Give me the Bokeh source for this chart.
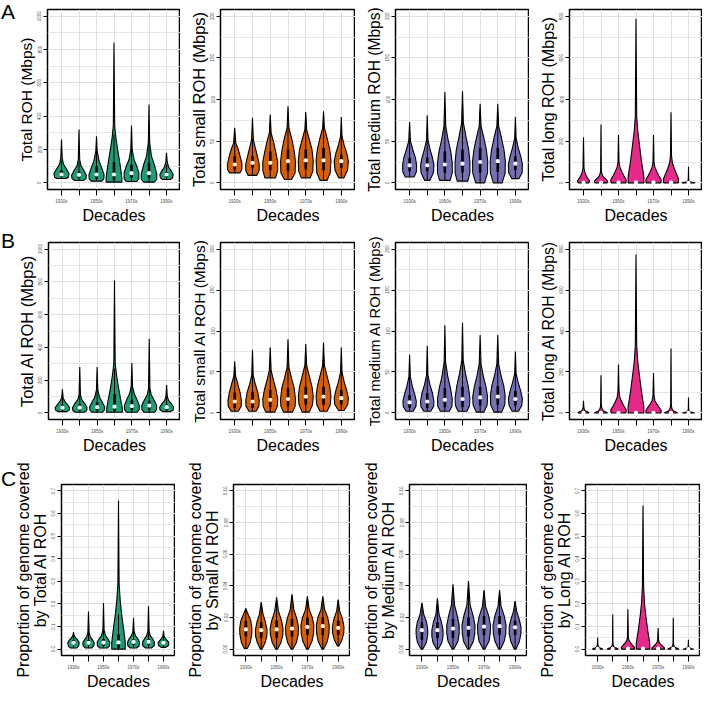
from bokeh.plotting import figure
from bokeh.layouts import column, row
from bokeh.models import FixedTicker, PrintfTickFormatter, Div
from bokeh.embed import file_html
from bokeh.resources import INLINE

decades = ["1930s", "1940s", "1950s", "1960s", "1970s", "1980s", "1990s"]
panel_letters = ["A", "B", "C"]

GREEN, ORANGE, PURPLE, PINK = "#1B9E77", "#D95F02", "#7570B3", "#E7298A"

# y tick values
T1000 = [0, 200, 400, 600, 800, 1000]; M1000 = [100, 300, 500, 700, 900]
T200 = [0, 50, 100, 150, 200];         M200 = [25, 75, 125, 175]
T800 = [0, 200, 400, 600, 800];        M800 = [100, 300, 500, 700]
T07 = [0.0, 0.1, 0.2, 0.3, 0.4, 0.5, 0.6, 0.7]
M07 = [0.05, 0.15, 0.25, 0.35, 0.45, 0.55, 0.65]
T010 = [0.0, 0.02, 0.04, 0.06, 0.08, 0.10]
M010 = [0.01, 0.03, 0.05, 0.07, 0.09]

# ---- violin outlines: knot heights (y) and half-widths (w); box = [q1, median, q3, upper whisker]
A1_y = [[26, 35, 55, 80, 110, 150, 260], [14, 25, 45, 70, 100, 140, 320], [10, 25, 50, 90, 130, 190, 280],
        [4, 30, 100, 180, 260, 340, 840], [8, 25, 60, 100, 140, 200, 344], [4, 20, 55, 110, 160, 240, 470],
        [20, 30, 50, 70, 95, 125, 180]]
A1_w = [[0.28, 0.40, 0.43, 0.30, 0.12, 0.04, 0], [0.25, 0.40, 0.42, 0.30, 0.12, 0.04, 0],
        [0.30, 0.42, 0.43, 0.30, 0.15, 0.04, 0], [0.45, 0.45, 0.36, 0.24, 0.12, 0.04, 0],
        [0.30, 0.42, 0.42, 0.30, 0.14, 0.04, 0], [0.30, 0.44, 0.44, 0.30, 0.14, 0.04, 0],
        [0.22, 0.35, 0.38, 0.28, 0.12, 0.04, 0]]
A1_box = [[35, 50, 75, 135], [30, 48, 70, 130], [25, 50, 100, 210], [15, 50, 125, 290],
          [30, 58, 110, 230], [30, 58, 120, 255], [35, 50, 65, 110]]

A2_y = [[12, 16, 22, 30, 40, 48, 66], [9, 15, 22, 30, 40, 52, 78], [6, 15, 25, 35, 48, 60, 82],
        [4, 12, 25, 38, 52, 66, 92], [6, 14, 27, 40, 52, 64, 85], [3, 12, 27, 40, 52, 66, 86],
        [6, 15, 26, 36, 46, 56, 79]]
A2_w = [[0.30, 0.40, 0.41, 0.33, 0.20, 0.06, 0], [0.25, 0.38, 0.38, 0.30, 0.18, 0.05, 0],
        [0.30, 0.42, 0.42, 0.33, 0.20, 0.05, 0], [0.20, 0.40, 0.42, 0.35, 0.22, 0.05, 0],
        [0.25, 0.40, 0.42, 0.35, 0.20, 0.05, 0], [0.20, 0.38, 0.42, 0.35, 0.22, 0.05, 0],
        [0.15, 0.35, 0.40, 0.30, 0.15, 0.04, 0]]
A2_box = [[16, 22, 32, 55], [18, 24, 32, 53], [15, 24, 38, 72], [14, 26, 40, 79],
          [16, 27, 40, 76], [15, 27, 42, 82], [18, 26, 34, 58]]

A3_y = [[7, 13, 21, 30, 40, 50, 73], [3, 12, 21, 30, 40, 52, 81], [3, 12, 24, 38, 52, 68, 109],
        [2, 12, 25, 40, 55, 72, 110], [0, 12, 26, 40, 55, 68, 95], [0, 12, 26, 40, 55, 68, 95],
        [5, 12, 22, 32, 42, 54, 79]]
A3_w = [[0.25, 0.38, 0.40, 0.33, 0.18, 0.05, 0], [0.15, 0.35, 0.38, 0.30, 0.16, 0.04, 0],
        [0.30, 0.42, 0.42, 0.33, 0.18, 0.05, 0], [0.30, 0.42, 0.42, 0.35, 0.20, 0.05, 0],
        [0.25, 0.42, 0.43, 0.35, 0.20, 0.05, 0], [0.25, 0.42, 0.43, 0.35, 0.20, 0.05, 0],
        [0.20, 0.38, 0.40, 0.30, 0.16, 0.04, 0]]
A3_box = [[14, 21, 30, 54], [14, 21, 30, 54], [12, 22, 38, 77], [12, 23, 40, 82],
          [12, 25, 42, 87], [13, 26, 42, 85], [15, 23, 32, 57]]

A4_y = [[0, 8, 20, 35, 50, 70, 219], [0, 8, 20, 30, 45, 60, 280], [0, 15, 35, 55, 75, 100, 229],
        [0, 30, 100, 180, 250, 320, 787], [0, 15, 35, 55, 75, 100, 229], [0, 20, 45, 70, 95, 130, 339],
        [0, 2, 4, 6, 10, 20, 77]]
A4_w = [[0.30, 0.35, 0.25, 0.15, 0.08, 0.03, 0], [0.35, 0.38, 0.25, 0.12, 0.05, 0.02, 0],
        [0.42, 0.44, 0.30, 0.18, 0.08, 0.03, 0], [0.45, 0.45, 0.32, 0.20, 0.10, 0.04, 0],
        [0.42, 0.44, 0.30, 0.18, 0.08, 0.03, 0], [0.42, 0.43, 0.30, 0.18, 0.08, 0.03, 0],
        [0.38, 0.30, 0.15, 0.06, 0.03, 0.01, 0]]
A4_box = [[0, 1, 3, 6], [0, 1, 3, 6], [0, 2, 5, 10], [0, 2, 6, 12],
          [0, 2, 5, 10], [0, 2, 5, 10], [0, 0, 1, 2]]

B1_y = [[8, 18, 32, 50, 70, 95, 145], [4, 15, 32, 55, 80, 110, 280], [4, 18, 38, 65, 95, 140, 280],
        [4, 30, 90, 160, 230, 300, 808], [4, 20, 45, 80, 115, 160, 305], [4, 20, 45, 75, 110, 150, 452],
        [8, 18, 35, 55, 75, 100, 171]]
B1_w = [[0.25, 0.40, 0.42, 0.30, 0.14, 0.04, 0], [0.25, 0.40, 0.42, 0.30, 0.12, 0.04, 0],
        [0.30, 0.42, 0.43, 0.30, 0.14, 0.04, 0], [0.45, 0.45, 0.34, 0.22, 0.12, 0.04, 0],
        [0.30, 0.42, 0.43, 0.30, 0.14, 0.04, 0], [0.30, 0.42, 0.43, 0.30, 0.12, 0.04, 0],
        [0.22, 0.38, 0.40, 0.28, 0.12, 0.04, 0]]
B1_box = [[18, 32, 50, 98], [15, 32, 55, 115], [15, 35, 65, 140], [10, 38, 115, 270],
          [18, 42, 80, 173], [20, 45, 75, 157], [18, 35, 52, 103]]

B2_y = [[2, 8, 15, 25, 35, 45, 63], [2, 8, 15, 25, 35, 46, 77], [1, 8, 17, 28, 40, 52, 80],
        [1, 8, 17, 30, 42, 56, 90], [1, 10, 20, 32, 45, 58, 84], [2, 10, 20, 32, 45, 58, 86],
        [3, 10, 18, 28, 38, 50, 80]]
B2_w = [[0.20, 0.36, 0.38, 0.30, 0.18, 0.05, 0], [0.20, 0.36, 0.38, 0.30, 0.16, 0.04, 0],
        [0.25, 0.40, 0.42, 0.33, 0.18, 0.05, 0], [0.25, 0.40, 0.42, 0.35, 0.20, 0.05, 0],
        [0.20, 0.38, 0.42, 0.35, 0.20, 0.05, 0], [0.20, 0.38, 0.42, 0.35, 0.20, 0.05, 0],
        [0.15, 0.36, 0.40, 0.30, 0.16, 0.04, 0]]
B2_box = [[6, 14, 25, 53], [6, 14, 26, 56], [7, 16, 28, 59], [8, 17, 30, 63],
          [10, 20, 32, 65], [10, 20, 32, 65], [10, 18, 28, 55]]

B3_y = [[2, 8, 14, 22, 32, 44, 71], [2, 8, 14, 24, 34, 46, 82], [2, 8, 17, 30, 45, 62, 107],
        [2, 9, 18, 32, 48, 64, 110], [1, 10, 20, 32, 45, 60, 95], [1, 10, 21, 33, 46, 60, 95],
        [2, 9, 17, 27, 37, 48, 75]]
B3_w = [[0.20, 0.36, 0.38, 0.30, 0.16, 0.04, 0], [0.20, 0.36, 0.38, 0.30, 0.16, 0.04, 0],
        [0.25, 0.40, 0.42, 0.32, 0.16, 0.04, 0], [0.25, 0.40, 0.42, 0.33, 0.17, 0.04, 0],
        [0.22, 0.40, 0.42, 0.33, 0.18, 0.05, 0], [0.22, 0.40, 0.42, 0.34, 0.18, 0.05, 0],
        [0.18, 0.36, 0.40, 0.30, 0.16, 0.04, 0]]
B3_box = [[6, 13, 22, 46], [6, 14, 24, 51], [7, 16, 30, 64], [7, 17, 32, 69],
          [9, 19, 32, 66], [10, 20, 33, 67], [9, 17, 27, 54]]

B4_y = [[0, 3, 8, 14, 20, 28, 59], [0, 4, 10, 18, 26, 40, 184], [0, 15, 35, 55, 75, 105, 237],
        [0, 30, 100, 180, 250, 330, 774], [0, 12, 30, 45, 60, 85, 195], [0, 4, 10, 18, 26, 40, 315],
        [0, 2, 5, 8, 12, 20, 75]]
B4_w = [[0.32, 0.28, 0.15, 0.07, 0.04, 0.02, 0], [0.38, 0.30, 0.15, 0.07, 0.04, 0.02, 0],
        [0.42, 0.44, 0.30, 0.18, 0.08, 0.03, 0], [0.45, 0.45, 0.32, 0.20, 0.10, 0.04, 0],
        [0.42, 0.44, 0.30, 0.18, 0.08, 0.03, 0], [0.38, 0.30, 0.15, 0.07, 0.04, 0.02, 0],
        [0.35, 0.25, 0.12, 0.05, 0.03, 0.01, 0]]
B4_box = [[0, 0, 1, 2], [0, 0, 1, 2], [0, 1, 4, 8], [0, 1, 5, 10],
          [0, 1, 4, 8], [0, 0, 1, 2], [0, 0, 1, 2]]

C1_y = [[0.005, 0.015, 0.028, 0.04, 0.05, 0.06, 0.076], [0.005, 0.015, 0.028, 0.04, 0.055, 0.075, 0.167],
        [0.005, 0.015, 0.03, 0.045, 0.06, 0.085, 0.204], [0.0, 0.03, 0.09, 0.15, 0.21, 0.29, 0.657],
        [0.005, 0.015, 0.03, 0.045, 0.06, 0.08, 0.139], [0.005, 0.015, 0.03, 0.045, 0.06, 0.08, 0.19],
        [0.008, 0.016, 0.028, 0.038, 0.048, 0.058, 0.081]]
C1_w = [[0.20, 0.35, 0.38, 0.28, 0.14, 0.04, 0], [0.20, 0.36, 0.38, 0.28, 0.12, 0.04, 0],
        [0.25, 0.40, 0.42, 0.30, 0.13, 0.04, 0], [0.45, 0.45, 0.34, 0.22, 0.12, 0.04, 0],
        [0.20, 0.38, 0.40, 0.30, 0.13, 0.04, 0], [0.20, 0.38, 0.40, 0.28, 0.12, 0.04, 0],
        [0.15, 0.33, 0.36, 0.26, 0.12, 0.04, 0]]
C1_box = [[0.018, 0.028, 0.04, 0.073], [0.018, 0.028, 0.04, 0.073], [0.015, 0.029, 0.045, 0.09],
          [0.005, 0.03, 0.065, 0.155], [0.018, 0.032, 0.045, 0.085], [0.02, 0.032, 0.045, 0.082],
          [0.02, 0.028, 0.037, 0.062]]

C2_y = [[0.0005, 0.004, 0.009, 0.013, 0.018, 0.022, 0.0257], [0.0, 0.004, 0.008, 0.012, 0.017, 0.022, 0.0297],
        [0.0, 0.004, 0.009, 0.013, 0.018, 0.024, 0.0327], [0.0, 0.004, 0.009, 0.014, 0.019, 0.025, 0.0347],
        [0.0, 0.005, 0.01, 0.015, 0.02, 0.025, 0.0333], [0.0, 0.005, 0.01, 0.015, 0.02, 0.025, 0.0333],
        [0.002, 0.006, 0.01, 0.014, 0.019, 0.024, 0.0313]]
C2_w = [[0.10, 0.28, 0.38, 0.40, 0.32, 0.15, 0], [0.05, 0.25, 0.36, 0.38, 0.28, 0.12, 0],
        [0.05, 0.28, 0.40, 0.42, 0.32, 0.12, 0], [0.05, 0.28, 0.40, 0.42, 0.32, 0.12, 0],
        [0.05, 0.30, 0.40, 0.42, 0.32, 0.12, 0], [0.05, 0.30, 0.40, 0.42, 0.32, 0.12, 0],
        [0.05, 0.25, 0.36, 0.38, 0.28, 0.10, 0]]
C2_box = [[0.008, 0.0125, 0.018, 0.0257], [0.007, 0.012, 0.017, 0.029], [0.007, 0.0125, 0.018, 0.032],
          [0.008, 0.013, 0.019, 0.034], [0.009, 0.014, 0.02, 0.033], [0.009, 0.0145, 0.02, 0.033],
          [0.009, 0.0135, 0.018, 0.031]]

C3_y = [[0.0, 0.004, 0.008, 0.012, 0.017, 0.022, 0.0293], [0.0, 0.004, 0.008, 0.012, 0.017, 0.022, 0.032],
        [0.0, 0.005, 0.01, 0.015, 0.021, 0.028, 0.041], [0.0, 0.005, 0.01, 0.015, 0.021, 0.028, 0.043],
        [0.0, 0.005, 0.01, 0.015, 0.021, 0.027, 0.0372], [0.0, 0.005, 0.01, 0.015, 0.021, 0.027, 0.0374],
        [0.0, 0.005, 0.01, 0.014, 0.019, 0.024, 0.0303]]
C3_w = [[0.05, 0.28, 0.36, 0.38, 0.30, 0.12, 0], [0.05, 0.28, 0.36, 0.36, 0.26, 0.10, 0],
        [0.05, 0.32, 0.40, 0.40, 0.28, 0.10, 0], [0.05, 0.32, 0.40, 0.42, 0.30, 0.10, 0],
        [0.05, 0.32, 0.40, 0.42, 0.30, 0.10, 0], [0.05, 0.30, 0.40, 0.42, 0.30, 0.10, 0],
        [0.05, 0.28, 0.38, 0.38, 0.26, 0.10, 0]]
C3_box = [[0.006, 0.012, 0.017, 0.029], [0.007, 0.012, 0.017, 0.032], [0.007, 0.013, 0.019, 0.037],
          [0.008, 0.0135, 0.02, 0.038], [0.009, 0.0143, 0.021, 0.037], [0.009, 0.0145, 0.021, 0.037],
          [0.009, 0.0138, 0.018, 0.030]]

C4_y = [[0, 0.003, 0.006, 0.01, 0.015, 0.022, 0.051], [0, 0.003, 0.007, 0.012, 0.018, 0.03, 0.153],
        [0, 0.008, 0.018, 0.028, 0.038, 0.05, 0.176], [0, 0.025, 0.08, 0.14, 0.2, 0.28, 0.635],
        [0, 0.006, 0.014, 0.022, 0.03, 0.042, 0.094], [0, 0.003, 0.007, 0.012, 0.018, 0.03, 0.139],
        [0, 0.002, 0.005, 0.008, 0.012, 0.018, 0.042]]
C4_w = [[0.35, 0.28, 0.14, 0.06, 0.03, 0.015, 0], [0.38, 0.30, 0.14, 0.06, 0.03, 0.015, 0],
        [0.42, 0.44, 0.30, 0.18, 0.08, 0.03, 0], [0.45, 0.45, 0.32, 0.20, 0.10, 0.04, 0],
        [0.42, 0.42, 0.28, 0.16, 0.07, 0.03, 0], [0.38, 0.30, 0.14, 0.06, 0.03, 0.015, 0],
        [0.35, 0.25, 0.12, 0.05, 0.025, 0.01, 0]]
C4_box = [[0, 0.001, 0.002, 0.004], [0, 0.001, 0.002, 0.004], [0, 0.002, 0.004, 0.008],
          [0, 0.002, 0.005, 0.01], [0, 0.002, 0.004, 0.008], [0, 0.001, 0.002, 0.004],
          [0, 0.0, 0.001, 0.002]]

FONT = "Liberation Sans"
GRID = "#E0E0E0"


def panel(ys, ws, box, color, ymax, major, minor, fmt, ylabel, lsize,
          width, height, bl, bt, bb):
    pad = ymax * 0.04
    p = figure(width=width, height=height, x_range=(0.2, 7.8), y_range=(-pad, ymax + pad),
               output_backend="svg", toolbar_location=None,
               min_border_left=bl, min_border_right=0, min_border_top=bt, min_border_bottom=bb)
    cx = list(range(1, len(decades) + 1))
    xs_all, ys_all = [], []
    for c, yk, wk in zip(cx, ys, ws):
        xs_all.append([c - w for w in wk] + [c + w for w in wk[::-1]])
        ys_all.append(list(yk) + list(yk[::-1]))
    p.patches(xs_all, ys_all, fill_color=color, line_color="black", line_width=1.1)
    lo = [yk[0] for yk in ys]
    q1 = [b[0] for b in box]; med = [b[1] for b in box]
    q3 = [b[2] for b in box]; whi = [b[3] for b in box]
    p.segment(cx, lo, cx, whi, line_color="black", line_width=1)
    p.segment(cx, q1, cx, q3, line_color="black", line_width=2.6)
    p.scatter(cx, med, size=4.2, fill_color="white", line_color=None)

    p.outline_line_color = "black"
    p.outline_line_width = 1.5
    p.outline_line_alpha = 1
    p.background_fill_color = "white"
    p.border_fill_color = None

    xa = p.xaxis[0]
    xa.ticker = FixedTicker(ticks=cx)
    xa.major_label_overrides = {c: (d if i % 2 == 0 else "") for i, (c, d) in enumerate(zip(cx, decades))}
    xa.axis_label = "Decades"
    xa.major_tick_out = 6
    xa.major_label_standoff = 3

    ya = p.yaxis[0]
    ya.ticker = FixedTicker(ticks=major, minor_ticks=minor)
    if fmt:
        ya.formatter = PrintfTickFormatter(format=fmt)
    ya.axis_label = ylabel
    ya.major_tick_out = 4
    ya.major_label_standoff = 2
    ya.major_label_orientation = "vertical"

    for ax in (xa, ya):
        ax.axis_line_color = None
        ax.major_tick_line_color = "black"
        ax.major_tick_line_width = 1
        ax.major_tick_in = 0
        ax.minor_tick_line_color = None
        ax.major_label_text_font = FONT
        ax.major_label_text_font_size = "4.5px"
        ax.major_label_text_color = "#4D4D4D"
        ax.axis_label_text_font = FONT
        ax.axis_label_text_font_style = "normal"
        ax.axis_label_text_color = "black"
        ax.axis_label_standoff = 0
    xa.axis_label_text_font_size = "16px"
    ya.axis_label_text_font_size = f"{lsize}px"
    ya.axis_label_text_line_height = 0.95

    p.xgrid.grid_line_color = GRID
    p.xgrid.grid_line_width = 1
    p.ygrid.grid_line_color = GRID
    p.ygrid.grid_line_width = 1
    p.ygrid.minor_grid_line_color = GRID
    p.ygrid.minor_grid_line_width = 0.8
    return p


def letter_div(letter, width, height, pad_top):
    html = (f'<div style="font-family:\'Liberation Sans\',Arial,sans-serif;font-size:21px;'
            f'line-height:24px;padding-top:{pad_top}px;padding-left:1px;color:black">{letter}</div>')
    return Div(text=html, width=width, height=height, margin=(0, 0, 0, 0))


WAB = [166, 175, 174, 173]; BLAB = [32, 40, 40, 40]
WC = [163, 175, 177, 173];  BLC = [44, 58, 59, 58]

rowA_specs = [
    (A1_y, A1_w, A1_box, GREEN, 1000, T1000, M1000, None, "Total ROH (Mbps)", 15.5),
    (A2_y, A2_w, A2_box, ORANGE, 200, T200, M200, None, "Total small ROH (Mbps)", 16.5),
    (A3_y, A3_w, A3_box, PURPLE, 200, T200, M200, None, "Total medium ROH (Mbps)", 15.6),
    (A4_y, A4_w, A4_box, PINK, 800, T800, M800, None, "Total long ROH (Mbps)", 16.2),
]
rowB_specs = [
    (B1_y, B1_w, B1_box, GREEN, 1000, T1000, M1000, None, "Total AI ROH (Mbps)", 16.5),
    (B2_y, B2_w, B2_box, ORANGE, 200, T200, M200, None, "Total small AI ROH (Mbps)", 15.5),
    (B3_y, B3_w, B3_box, PURPLE, 200, T200, M200, None, "Total medium AI ROH (Mbps)", 14.6),
    (B4_y, B4_w, B4_box, PINK, 800, T800, M800, None, "Total long AI ROH (Mbps)", 15.8),
]
rowC_specs = [
    (C1_y, C1_w, C1_box, GREEN, 0.7, T07, M07, "%.1f", "Proportion of genome covered\nby Total AI ROH", 16),
    (C2_y, C2_w, C2_box, ORANGE, 0.1, T010, M010, "%.2f", "Proportion of genome covered\nby Small AI ROH", 16),
    (C3_y, C3_w, C3_box, PURPLE, 0.1, T010, M010, "%.2f", "Proportion of genome covered\nby Medium AI ROH", 16),
    (C4_y, C4_w, C4_box, PINK, 0.7, T07, M07, "%.1f", "Proportion of genome covered\nby Long AI ROH", 16),
]

figsA = [panel(*s, width=WAB[i], height=226, bl=BLAB[i], bt=9, bb=37) for i, s in enumerate(rowA_specs)]
figsB = [panel(*s, width=WAB[i], height=230, bl=BLAB[i], bt=16, bb=34) for i, s in enumerate(rowB_specs)]
figsC = [panel(*s, width=WC[i], height=236, bl=BLC[i], bt=28, bb=30) for i, s in enumerate(rowC_specs)]

rowA = row(letter_div(panel_letters[0], 14, 226, 0), *figsA)
rowB = row(letter_div(panel_letters[1], 14, 230, 3), *figsB)
rowC = row(letter_div(panel_letters[2], 12, 236, 11), *figsC)

p = column(rowA, rowB, rowC)
open("out.html", "w").write(file_html(p, INLINE))
